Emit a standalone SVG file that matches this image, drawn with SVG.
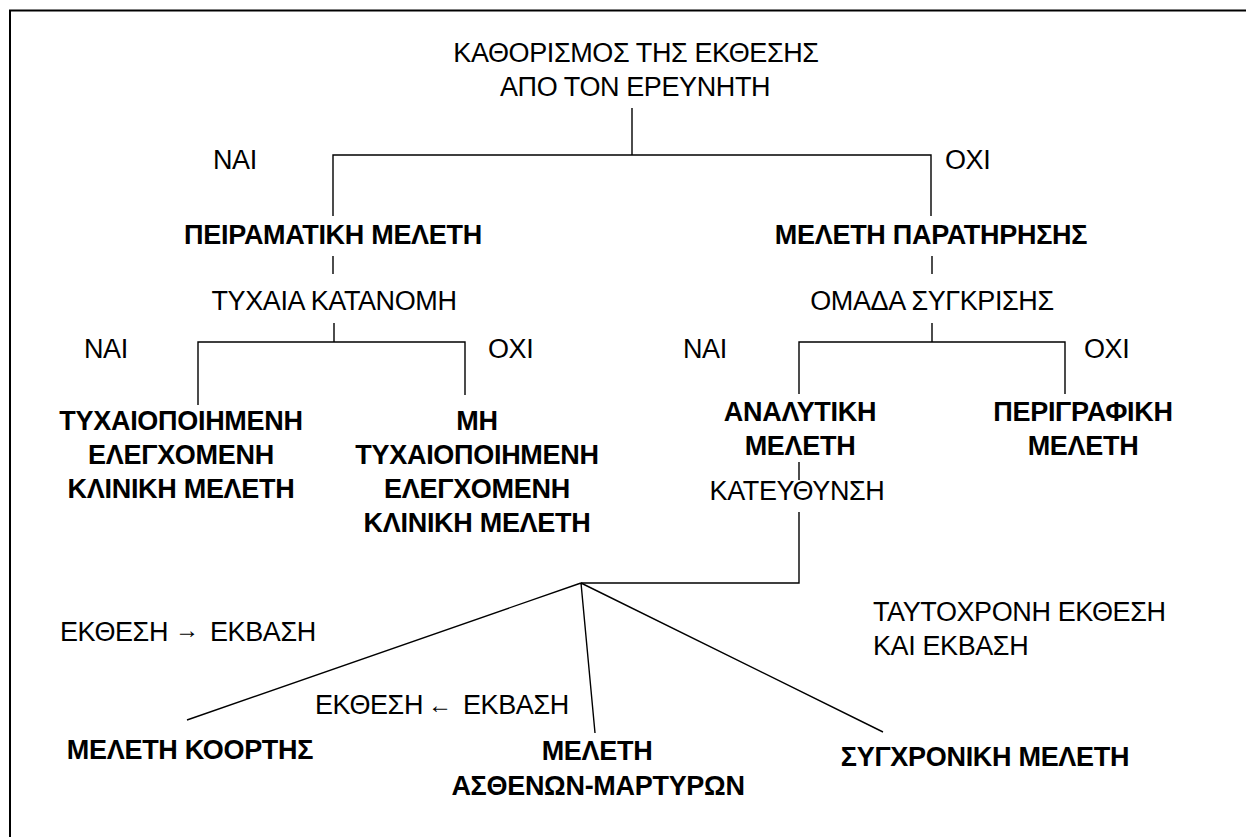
<svg xmlns="http://www.w3.org/2000/svg" width="1246" height="837" viewBox="0 0 1246 837">
<style>
text{font-family:"Liberation Sans",Arial,sans-serif;font-size:27px;letter-spacing:-0.4px;fill:#000}
.b{font-weight:bold;letter-spacing:-0.3px}
.m{text-anchor:middle}
.c{fill:none;stroke:#000;stroke-width:1.4}
.fr{fill:none;stroke:#000;stroke-width:2}
.ar{font-size:24px;letter-spacing:0}
</style>
<rect width="1246" height="837" fill="#fff"/>
<path class="fr" d="M10,837 V10.5 H1246"/>
<g id="connectors">
<path class="c" d="M632,108 V155"/>
<path class="c" d="M333,216 V155 H931 V216"/>
<path class="c" d="M333,256 V274"/>
<path class="c" d="M334,323 V342"/>
<path class="c" d="M198,405 V342 H465 V395"/>
<path class="c" d="M932,256 V274"/>
<path class="c" d="M932,323 V342"/>
<path class="c" d="M799,394 V342 H1065 V394"/>
<path class="c" d="M799,462 V480"/>
<path class="c" d="M799,512 V583 H581"/>
<path class="c" d="M581,583 L187,720 M581,583 L595,733 M581,583 L883,732"/>
</g>
<g id="root"><text class="m" x="636" y="62">ΚΑΘΟΡΙΣΜΟΣ ΤΗΣ ΕΚΘΕΣΗΣ</text><text class="m" x="635" y="96">ΑΠΟ ΤΟΝ ΕΡΕΥΝΗΤΗ</text></g>
<g id="lbl-nai1"><text x="213" y="169">ΝΑΙ</text></g>
<g id="lbl-oxi1"><text x="945" y="169">ΟΧΙ</text></g>
<g id="peiramatiki"><text class="b m" x="333" y="244">ΠΕΙΡΑΜΑΤΙΚΗ ΜΕΛΕΤΗ</text></g>
<g id="paratirisis"><text class="b m" x="931" y="244">ΜΕΛΕΤΗ ΠΑΡΑΤΗΡΗΣΗΣ</text></g>
<g id="tyxaia"><text class="m" x="334" y="310">ΤΥΧΑΙΑ ΚΑΤΑΝΟΜΗ</text></g>
<g id="omada"><text class="m" x="932" y="310">ΟΜΑΔΑ ΣΥΓΚΡΙΣΗΣ</text></g>
<g id="lbl-nai2"><text x="84" y="358">ΝΑΙ</text></g>
<g id="lbl-oxi2"><text x="488" y="358">ΟΧΙ</text></g>
<g id="lbl-nai3"><text x="683" y="358">ΝΑΙ</text></g>
<g id="lbl-oxi3"><text x="1084" y="358">ΟΧΙ</text></g>
<g id="rct"><text class="b m" x="181" y="430">ΤΥΧΑΙΟΠΟΙΗΜΕΝΗ</text><text class="b m" x="181" y="464">ΕΛΕΓΧΟΜΕΝΗ</text><text class="b m" x="181" y="498">ΚΛΙΝΙΚΗ ΜΕΛΕΤΗ</text></g>
<g id="nrct"><text class="b m" x="477" y="430">ΜΗ</text><text class="b m" x="477" y="464">ΤΥΧΑΙΟΠΟΙΗΜΕΝΗ</text><text class="b m" x="477" y="498">ΕΛΕΓΧΟΜΕΝΗ</text><text class="b m" x="477" y="532">ΚΛΙΝΙΚΗ ΜΕΛΕΤΗ</text></g>
<g id="analytiki"><text class="b m" x="800" y="421">ΑΝΑΛΥΤΙΚΗ</text><text class="b m" x="800" y="455">ΜΕΛΕΤΗ</text></g>
<g id="perigrafiki"><text class="b m" x="1083" y="421">ΠΕΡΙΓΡΑΦΙΚΗ</text><text class="b m" x="1083" y="455">ΜΕΛΕΤΗ</text></g>
<g id="kateythynsi"><text class="m" x="797" y="500">ΚΑΤΕΥΘΥΝΣΗ</text></g>
<g id="lbl-forward"><text x="60" y="641">ΕΚΘΕΣΗ</text><text class="ar m" x="187" y="638">→</text><text x="210" y="641">ΕΚΒΑΣΗ</text></g>
<g id="lbl-backward"><text x="315" y="714">ΕΚΘΕΣΗ</text><text class="ar m" x="440" y="713">←</text><text x="463" y="714">ΕΚΒΑΣΗ</text></g>
<g id="lbl-simult"><text x="873" y="621">ΤΑΥΤΟΧΡΟΝΗ ΕΚΘΕΣΗ</text><text x="873" y="655">ΚΑΙ ΕΚΒΑΣΗ</text></g>
<g id="kohortis"><text class="b m" x="190" y="759">ΜΕΛΕΤΗ ΚΟΟΡΤΗΣ</text></g>
<g id="asthenon"><text class="b m" x="597" y="760">ΜΕΛΕΤΗ</text><text class="b m" x="598" y="795">ΑΣΘΕΝΩΝ-ΜΑΡΤΥΡΩΝ</text></g>
<g id="sygxroniki"><text class="b m" x="985" y="766">ΣΥΓΧΡΟΝΙΚΗ ΜΕΛΕΤΗ</text></g>
</svg>
